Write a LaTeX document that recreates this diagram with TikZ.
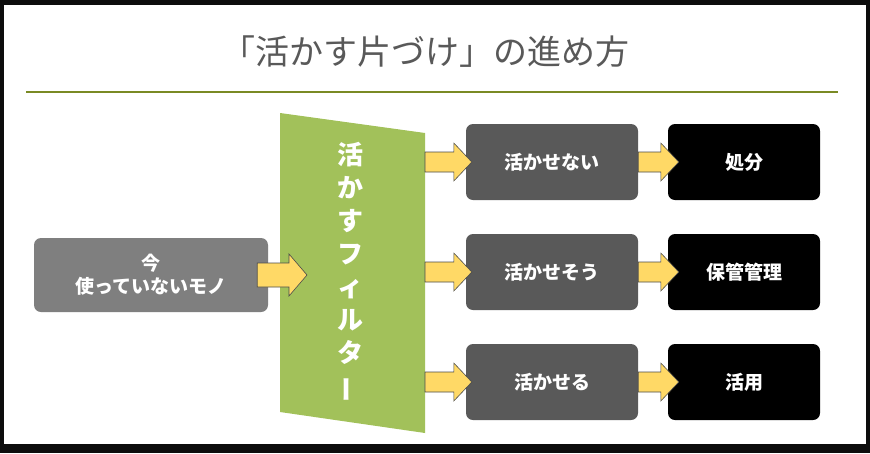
\documentclass[tikz,border=0pt]{standalone}
\usepackage{fontspec}
\setmainfont{Noto Sans CJK JP}
\usetikzlibrary{calc,positioning}
\definecolor{frame}{HTML}{0D0D0D}
\definecolor{titlegray}{HTML}{595959}
\definecolor{olive}{HTML}{7A8A24}
\definecolor{filtergreen}{HTML}{A2C15A}
\definecolor{stockgray}{HTML}{7F7F7F}
\definecolor{judgegray}{HTML}{595959}
\definecolor{arrowyellow}{HTML}{FFD966}
\tikzset{
  box/.style={rounded corners=7pt, minimum height=76pt, text=white, font=\bfseries\fontsize{19}{23}\selectfont, align=center, inner sep=0pt},
  judge/.style={box, fill=judgegray, minimum width=172pt},
  result/.style={box, fill=black, minimum width=152pt},
  fatarrow/.style={fill=arrowyellow, draw=black!70, line width=0.6pt}
}
% fat arrow from #1 to #2 (shaft half height #3, head half height #4)
\newcommand\fatarrow[4]{%
  \draw[fatarrow] let \p1=(#1), \p2=(#2) in
    (\x1,\y1-#3) -- (\x2-18pt,\y1-#3) -- (\x2-18pt,\y1-#4) -- (\x2,\y1)
    -- (\x2-18pt,\y1+#4) -- (\x2-18pt,\y1+#3) -- (\x1,\y1+#3) -- cycle;}
\begin{document}
\begin{tikzpicture}[x=1pt, y=-1pt]
  \useasboundingbox (0,0) rectangle (870,453);
  \fill[frame] (0,0) rectangle (870,453);
  \fill[white] (4,5) rectangle (866,444);
  % title
  \node[text=titlegray, font=\fontsize{34}{40}\selectfont] (title) at (425,52) {「活かす片づけ」の進め方};
  \draw[olive, line width=2pt] (26,92) -- (838,92);
  % filter
  \fill[filtergreen] (280,113) -- (425,133) -- (425,433) -- (280,412) -- cycle;
  \coordinate (filterin) at (280,275);
  \coordinate (filterout) at (425,275);
  \node[text=white, font=\bfseries\fontsize{26}{33}\selectfont, align=center, inner sep=0pt] (filtertext) at (350,272)
    {活\\か\\す\\フ\\ィ\\ル\\タ\\\rotatebox[origin=c]{90}{ー}};
  % boxes
  \node[box, fill=stockgray, minimum width=234pt, minimum height=74pt] (stock) at (151,275) {今\\使っていないモノ};
  \node[judge] (no) at (552,162) {活かせない};
  \node[judge] (maybe) at (552,272) {活かせそう};
  \node[judge] (yes) at (552,382) {活かせる};
  \node[result] (dispose) at (744,162) {処分};
  \node[result] (keep) at (744,272) {保管管理};
  \node[result] (use) at (744,382) {活用};
  % arrows
  \fatarrow{$(stock.east)+(-11,0)$}{$(filterin)+(27,0)$}{12pt}{21pt}
  \foreach \j/\r in {no/dispose, maybe/keep, yes/use}{
    \fatarrow{filterout |- \j}{$(\j.west)+(6,0)$}{10pt}{19pt}
    \fatarrow{\j.east}{$(\r.west)+(11,0)$}{10pt}{19pt}
  }
\end{tikzpicture}
\end{document}
